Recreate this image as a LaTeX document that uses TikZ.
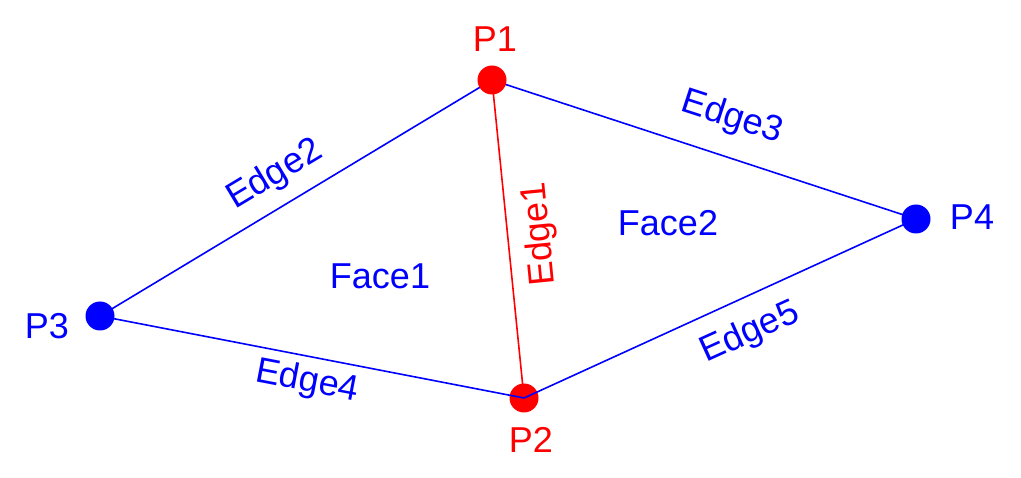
\documentclass[tikz,border=0pt]{standalone}
\usepackage{fontspec}
\setmainfont{Liberation Sans}
\usetikzlibrary{backgrounds}
\definecolor{pblue}{RGB}{0,0,255}
\definecolor{pred}{RGB}{255,0,0}
\begin{document}
\begin{tikzpicture}[x=1pt,y=-1pt,
  dot/.style={circle,inner sep=0pt,minimum size=29pt,fill=#1},
  lbl/.style={text=#1,inner sep=0pt,font=\fontsize{36}{40}\selectfont},
  edgeline/.style={draw=#1,line width=1.6pt}]
\useasboundingbox (0,0) rectangle (1021,478);
\node[dot=pred]  (p2) at (524,398) {};
\node[dot=pred]  (p1) at (492,80) {};
\node[dot=pblue] (p3) at (100,316) {};
\node[dot=pblue] (p4) at (916,219) {};
\begin{scope}[on background layer]
  \draw[edgeline=pblue] (p3.center) -- (p1.center);
  \draw[edgeline=pblue] (p1.center) -- (p4.center);
  \draw[edgeline=pred]  (p1.center) -- (p2.center);
\end{scope}
\draw[edgeline=pblue] (p3.center) -- (p2.center);
\draw[edgeline=pblue] (p2.center) -- (p4.center);
\node[lbl=pred]  (t1) at (495,39) {P1};
\node[lbl=pred]  (t2) at (531,440) {P2};
\node[lbl=pblue] (t3) at (47,326) {P3};
\node[lbl=pblue] (t4) at (972,217) {P4};
\node[lbl=pred,rotate=95.6]  (e1) at (540,234) {Edge1};
\node[lbl=pblue,rotate=31]   (e2) at (275,175) {Edge2};
\node[lbl=pblue,rotate=-18]  (e3) at (732,118) {Edge3};
\node[lbl=pblue,rotate=-10.8] (e4) at (307,382) {Edge4};
\node[lbl=pblue,rotate=24.4] (e5) at (750,333) {Edge5};
\node[lbl=pblue] (f1) at (380,276) {Face1};
\node[lbl=pblue] (f2) at (668,223) {Face2};
\end{tikzpicture}
\end{document}
